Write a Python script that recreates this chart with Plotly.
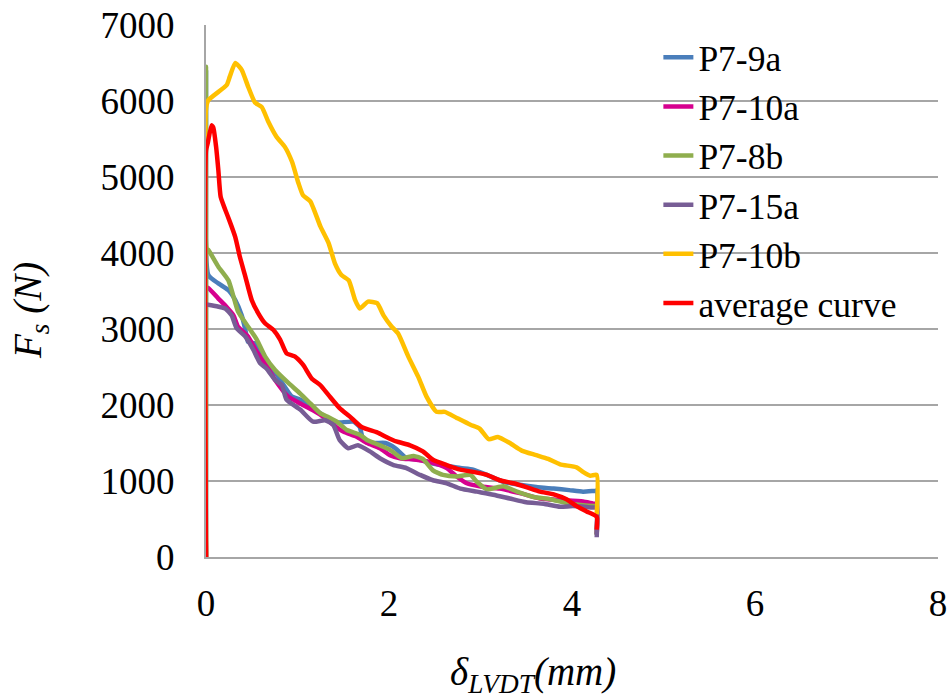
import plotly.graph_objects as go

# ---- data ----
p7_9a_x = [0, 0, 0.025, 0.135, 0.245, 0.32, 0.39, 0.43, 0.46, 0.535, 0.61, 0.68, 0.79, 0.94, 1.03, 1.25, 1.36, 1.46, 1.61, 1.68, 1.72, 1.83, 1.96, 2.07, 2.19, 2.33, 2.48, 2.63, 2.78, 2.92, 3.07, 3.25, 3.43, 3.61, 3.80, 3.97, 4.12, 4.25, 4.27, 4.27]
p7_9a_y = [0, 6400, 3710, 3600, 3510, 3380, 3180, 2990, 2830, 2810, 2680, 2550, 2370, 2110, 2070, 1890, 1780, 1770, 1780, 1710, 1540, 1500, 1500, 1430, 1300, 1280, 1230, 1200, 1170, 1150, 1080, 990, 950, 920, 900, 880, 860, 870, 870, 300]

p7_10a_x = [0, 0, 0.025, 0.135, 0.225, 0.30, 0.35, 0.46, 0.555, 0.645, 0.755, 0.90, 1.03, 1.17, 1.30, 1.39, 1.50, 1.65, 1.76, 1.90, 2.01, 2.12, 2.30, 2.48, 2.63, 2.74, 2.85, 2.99, 3.21, 3.43, 3.65, 3.87, 4.12, 4.25, 4.27, 4.27]
p7_10a_y = [0, 3540, 3540, 3400, 3290, 3180, 3030, 2900, 2700, 2550, 2330, 2110, 2020, 1930, 1830, 1740, 1650, 1580, 1500, 1430, 1340, 1300, 1280, 1240, 1170, 1060, 970, 930, 900, 840, 770, 750, 730, 700, 700, 300]

p7_8b_x = [0, 0, 0.01, 0.025, 0.135, 0.245, 0.30, 0.35, 0.46, 0.555, 0.645, 0.755, 0.90, 1.03, 1.14, 1.25, 1.34, 1.43, 1.54, 1.68, 1.76, 1.90, 2.01, 2.14, 2.27, 2.37, 2.48, 2.59, 2.74, 2.89, 2.96, 3.07, 3.25, 3.40, 3.58, 3.76, 3.94, 4.12, 4.25, 4.27, 4.27]
p7_8b_y = [0, 6450, 4050, 4040, 3820, 3640, 3430, 3230, 3030, 2860, 2640, 2460, 2290, 2150, 2020, 1890, 1840, 1780, 1670, 1610, 1540, 1470, 1410, 1300, 1330, 1290, 1140, 1080, 1060, 1080, 990, 890, 930, 860, 790, 760, 710, 680, 670, 670, 290]

p7_15a_x = [0, 0, 0.025, 0.21, 0.28, 0.335, 0.43, 0.52, 0.59, 0.66, 0.755, 0.83, 0.88, 1.03, 1.17, 1.30, 1.39, 1.46, 1.555, 1.66, 1.79, 1.90, 2.05, 2.19, 2.34, 2.48, 2.63, 2.78, 2.96, 3.14, 3.32, 3.50, 3.69, 3.87, 4.01, 4.25, 4.27, 4.27]
p7_15a_y = [0, 3320, 3320, 3270, 3180, 3010, 2900, 2720, 2550, 2480, 2330, 2260, 2070, 1940, 1780, 1800, 1740, 1540, 1430, 1470, 1390, 1300, 1210, 1170, 1080, 1010, 970, 900, 860, 820, 770, 720, 700, 660, 670, 650, 650, 260]

p7_10b_x = [0, 0, 0.025, 0.226, 0.26, 0.32, 0.39, 0.46, 0.535, 0.61, 0.68, 0.77, 0.86, 0.94, 1.01, 1.06, 1.14, 1.25, 1.34, 1.41, 1.48, 1.56, 1.63, 1.68, 1.77, 1.87, 1.94, 2.03, 2.10, 2.21, 2.32, 2.41, 2.52, 2.61, 2.74, 2.89, 2.99, 3.09, 3.19, 3.32, 3.45, 3.61, 3.74, 3.87, 4.05, 4.12, 4.20, 4.27, 4.27]
p7_10b_y = [0, 5900, 6010, 6210, 6320, 6500, 6410, 6190, 5980, 5920, 5730, 5530, 5400, 5200, 4920, 4760, 4680, 4350, 4130, 3860, 3710, 3640, 3380, 3270, 3360, 3340, 3180, 3030, 2940, 2640, 2370, 2110, 1910, 1910, 1830, 1740, 1690, 1550, 1580, 1500, 1400, 1340, 1290, 1220, 1180, 1120, 1070, 1080, 560]

avg_x = [0, 0, 0.02, 0.06, 0.08, 0.11, 0.135, 0.16, 0.21, 0.255, 0.32, 0.37, 0.43, 0.50, 0.57, 0.645, 0.735, 0.81, 0.88, 0.97, 1.06, 1.155, 1.25, 1.34, 1.46, 1.57, 1.70, 1.87, 1.97, 2.08, 2.23, 2.37, 2.48, 2.63, 2.78, 2.92, 3.07, 3.21, 3.36, 3.50, 3.65, 3.80, 3.94, 4.05, 4.16, 4.27, 4.27]
avg_y = [0, 5350, 5450, 5680, 5650, 5400, 5090, 4740, 4570, 4430, 4210, 3950, 3690, 3380, 3210, 3075, 2990, 2860, 2680, 2640, 2530, 2350, 2260, 2130, 1960, 1850, 1710, 1640, 1580, 1520, 1470, 1390, 1280, 1210, 1150, 1120, 1080, 1010, 970, 920, 860, 825, 760, 670, 600, 530, 360]

series_names = ["P7-9a", "P7-10a", "P7-8b", "P7-15a", "P7-10b", "average curve"]
series_colors = ["#4A7EBB", "#D6008F", "#8FAE4E", "#775D95", "#FFC000", "#FF0000"]
series_x = [p7_9a_x, p7_10a_x, p7_8b_x, p7_15a_x, p7_10b_x, avg_x]
series_y = [p7_9a_y, p7_10a_y, p7_8b_y, p7_15a_y, p7_10b_y, avg_y]

x_ticks = [0, 2, 4, 6, 8]
y_ticks = [0, 1000, 2000, 3000, 4000, 5000, 6000, 7000]
x_title = "<i>δ<sub>LVDT</sub>(mm)</i>"
y_title = "<i>F<sub>s</sub> (N)</i>"

FONT = "Times New Roman, Liberation Serif, serif"

fig = go.Figure()
for name, color, xs, ys in zip(series_names, series_colors, series_x, series_y):
    fig.add_trace(go.Scatter(
        x=xs, y=ys, mode="lines", name=name, legendgroup=name,
        line=dict(color=color, width=4.5, shape="spline", smoothing=0.5),
        cliponaxis=True,
    ))

fig.update_layout(
    width=952, height=700,
    margin=dict(l=206, r=14, t=25, b=143),
    paper_bgcolor="white", plot_bgcolor="white",
    font=dict(family=FONT, size=36, color="black"),
    showlegend=True,
    legend=dict(
        x=0.618, y=0.995, xanchor="left", yanchor="top",
        font=dict(family=FONT, size=35.5, color="black"),
        bgcolor="rgba(0,0,0,0)", tracegroupgap=0,
    ),
    xaxis=dict(
        range=[0, 8], tickvals=x_ticks, ticktext=[str(v) for v in x_ticks],
        showgrid=False, zeroline=False, showline=True, linecolor="#A6A6A6", linewidth=2,
        ticks="", ticklabelstandoff=13, automargin=False,
        tickfont=dict(family=FONT, size=37),
    ),
    yaxis=dict(
        range=[0, 7000], tickvals=y_ticks, ticktext=[str(v) for v in y_ticks],
        showgrid=True, gridcolor="#A6A6A6", gridwidth=2,
        zeroline=False, showline=True, linecolor="#A6A6A6", linewidth=2,
        ticks="", ticklabelstandoff=22, automargin=False,
        tickfont=dict(family=FONT, size=37),
    ),
    annotations=[
        dict(text=x_title, xref="paper", yref="paper", x=(533 - 206) / 732, y=-(674 - 557) / 532,
             xanchor="center", yanchor="middle", showarrow=False,
             font=dict(family=FONT, size=39, color="black")),
        dict(text=y_title, xref="paper", yref="paper", x=-(206 - 30) / 732, y=(557 - 311) / 532,
             xanchor="center", yanchor="middle", showarrow=False, textangle=-90,
             font=dict(family=FONT, size=39, color="black")),
    ],
)

fig.write_html("out.html", config={"displayModeBar": False},
               post_script="document.body.style.margin='0';document.body.style.padding='0';")
